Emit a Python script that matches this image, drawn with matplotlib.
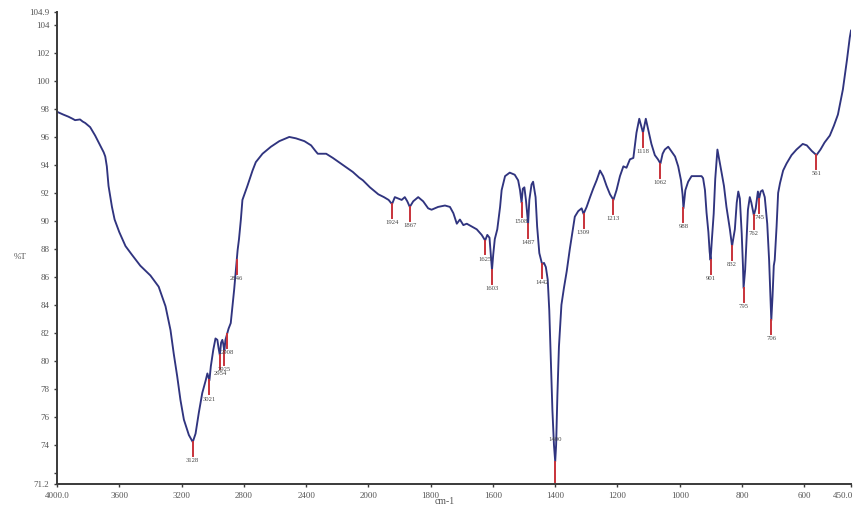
import numpy as np
import matplotlib
matplotlib.use('Agg')
import matplotlib.pyplot as plt
from matplotlib.ticker import FixedLocator, FixedFormatter
from matplotlib.transforms import ScaledTranslation

# IR spectrum, wavenumber (cm-1) vs %T
wavenumber = [
    4000, 3960, 3927, 3900, 3884, 3852, 3835, 3819, 3787, 3755, 3723, 3700,
    3690, 3680, 3669, 3647, 3630, 3600, 3560, 3520, 3465, 3400, 3347, 3303,
    3271, 3250, 3228, 3207, 3185, 3153, 3128, 3110, 3089, 3067, 3045, 3034,
    3021, 3012, 2996, 2982, 2970, 2962, 2954, 2946, 2938, 2932, 2925, 2918,
    2908, 2898, 2884, 2873, 2862, 2852, 2846, 2840, 2831, 2819, 2809, 2777,
    2744, 2723, 2680, 2626, 2572, 2508, 2465, 2411, 2368, 2340, 2325, 2300,
    2271, 2228, 2164, 2100, 2060, 2035, 1995, 1968, 1950, 1935, 1924, 1915,
    1904, 1893, 1883, 1875, 1867, 1856, 1840, 1824, 1808, 1797, 1776, 1754,
    1738, 1727, 1716, 1706, 1695, 1684, 1668, 1652, 1636, 1625, 1618, 1611,
    1606, 1603, 1599, 1594, 1586, 1577, 1572, 1561, 1546, 1530, 1519, 1513,
    1508, 1504, 1499, 1494, 1487, 1483, 1476, 1471, 1463, 1458, 1451, 1442,
    1436, 1430, 1424, 1419, 1414, 1409, 1404, 1400, 1397, 1393, 1388, 1380,
    1372, 1363, 1353, 1342, 1337, 1326, 1315, 1309, 1299, 1288, 1278, 1267,
    1256, 1246, 1235, 1224, 1213, 1203, 1192, 1181, 1171, 1160, 1149, 1139,
    1130, 1123, 1118, 1109, 1101, 1091, 1080, 1070, 1062, 1055, 1048, 1037,
    1026, 1015, 1005, 996, 991, 988, 982, 973, 962, 946, 930, 925,
    919, 914, 908, 904, 901, 897, 891, 886, 879, 874, 866, 858,
    850, 839, 832, 823, 817, 812, 807, 801, 797, 795, 790, 787,
    781, 775, 770, 762, 756, 749, 745, 740, 734, 727, 719, 713,
    709, 706, 702, 698, 695, 689, 684, 678, 668, 657, 641, 625,
    605, 592, 576, 561, 548, 535, 518, 505, 492, 476, 463, 454, 450,
]
transmittance = [
    97.8, 97.6, 97.45, 97.3, 97.2, 97.25, 97.1, 97.0, 96.7, 96.1, 95.4, 94.9,
    94.6, 93.9, 92.5, 91.0, 90.1, 89.2, 88.2, 87.6, 86.8, 86.1, 85.3, 83.9,
    82.2, 80.5, 78.9, 77.2, 75.8, 74.7, 74.2, 74.8, 76.3, 77.7, 78.6, 79.1,
    78.6, 79.6, 80.8, 81.6, 81.5, 80.9, 80.4, 81.3, 81.5, 81.2, 80.7, 81.5,
    81.9, 82.3, 82.7, 83.9, 85.1, 86.4, 87.2, 87.9, 88.7, 90.1, 91.5, 92.5,
    93.6, 94.2, 94.8, 95.3, 95.7, 96.0, 95.9, 95.7, 95.4, 95.0, 94.8, 94.8,
    94.8, 94.5, 94.0, 93.5, 93.1, 92.9, 92.4, 91.9, 91.7, 91.5, 91.2, 91.7,
    91.6, 91.5, 91.7, 91.4, 91.0, 91.4, 91.7, 91.4, 90.9, 90.8, 91.0, 91.1,
    91.0, 90.55, 89.8, 90.1, 89.7, 89.8, 89.6, 89.4, 89.0, 88.6, 89.0, 88.8,
    87.4, 86.5, 87.6, 88.7, 89.4, 91.0, 92.2, 93.2, 93.45, 93.3, 92.9, 92.2,
    91.3, 92.3, 92.4, 91.5, 89.8, 91.5, 92.6, 92.8, 91.7, 89.6, 87.7, 86.9,
    87.0, 86.7, 85.8, 83.6, 80.1, 76.5, 74.0, 72.8, 74.0, 77.5, 81.0, 84.0,
    85.2, 86.4, 88.0, 89.6, 90.3, 90.7, 90.9, 90.5, 91.0, 91.7, 92.3, 92.9,
    93.6, 93.2, 92.5, 91.9, 91.5, 92.2, 93.2, 93.9, 93.8, 94.4, 94.5, 96.3,
    97.3, 96.7, 96.3, 97.3, 96.5, 95.5, 94.7, 94.4, 94.1, 94.8, 95.1, 95.3,
    94.95, 94.6, 93.9, 92.9, 91.9, 90.9, 92.2, 92.8, 93.2, 93.2, 93.2, 93.05,
    92.2, 90.6, 89.2, 87.8, 87.2, 88.6, 90.5, 93.0, 95.1, 94.5, 93.5, 92.5,
    91.0, 89.4, 88.2, 89.4, 91.3, 92.1, 91.6, 89.1, 86.8, 85.2, 86.5, 87.9,
    90.8, 91.7, 91.3, 90.4, 90.9, 92.1, 91.6, 92.1, 92.2, 91.7, 89.8, 87.2,
    84.8, 82.9, 84.6, 86.8, 87.2, 89.6, 92.0, 92.7, 93.6, 94.1, 94.7, 95.1,
    95.5, 95.4, 95.0, 94.7, 95.1, 95.6, 96.1, 96.8, 97.6, 99.4, 101.5, 103.1, 103.6,
]

# labelled bands
peaks = [3128, 3021, 2954, 2925, 2908, 2846, 1924, 1867, 1625, 1603, 1508,
         1487, 1442, 1400, 1309, 1213, 1118, 1062, 988, 901, 832, 795, 762,
         745, 706, 561]

x_ticks = [4000, 3600, 3200, 2800, 2400, 2000, 1800, 1600, 1400, 1200, 1000,
           800, 600, 450]
x_tick_labels = ['4000.0', '3600', '3200', '2800', '2400', '2000', '1800',
                 '1600', '1400', '1200', '1000', '800', '600', '450.0']
y_ticks = [71.2, 72, 74, 76, 78, 80, 82, 84, 86, 88, 90, 92, 94, 96, 98, 100,
           102, 104, 104.9]
y_tick_labels = ['71.2', '', '74', '76', '78', '80', '82', '84', '86', '88',
                 '90', '92', '94', '96', '98', '100', '102', '104', '104.9']


# the axis is expanded x2 below 2000 cm-1
def fwd(x):
    x = np.asarray(x, dtype=float)
    return np.where(x > 2000, 2000 + (x - 2000) / 2.0, x)


def inv(u):
    u = np.asarray(u, dtype=float)
    return np.where(u > 2000, 2000 + (u - 2000) * 2.0, u)


wn = np.array(wavenumber, dtype=float)
tr = np.array(transmittance, dtype=float)

fig = plt.figure(figsize=(8.59, 5.08), dpi=100)
ax = fig.add_axes([57 / 859, 24 / 508, 794 / 859, 471.6 / 508])
ax.set_xscale('function', functions=(fwd, inv))
ax.set_xlim(4000, 450)
ax.set_ylim(71.2, 104.9)

line_col = '#30347f'
mark_col = '#c8323a'
ax.plot(wn, tr, color=line_col, lw=1.35, zorder=2)

ymin = 71.2
for p in peaks:
    t = np.interp(p, wn[::-1], tr[::-1])
    if t - 2.2 < ymin:
        ax.plot([p, p], [t, ymin + 0.15], color=mark_col, lw=1.4, zorder=3)
        ax.text(p, t + 1.4, str(p), ha='center', va='bottom', fontsize=4.8,
                color='#444444', family='Liberation Serif', zorder=4)
    else:
        ax.plot([p, p], [t, t - 1.0], color=mark_col, lw=1.4, zorder=3)
        ax.text(p, t - 1.15, str(p), ha='center', va='top', fontsize=4.8,
                color='#444444', family='Liberation Serif', zorder=4)

ax.xaxis.set_major_locator(FixedLocator(x_ticks))
ax.xaxis.set_major_formatter(FixedFormatter(x_tick_labels))
ax.xaxis.set_minor_locator(FixedLocator([]))
ax.yaxis.set_major_locator(FixedLocator(y_ticks))
ax.yaxis.set_major_formatter(FixedFormatter(y_tick_labels))

for s in ['top', 'right']:
    ax.spines[s].set_visible(False)
for s in ['left', 'bottom']:
    ax.spines[s].set_color('#3a3a3a')
    ax.spines[s].set_linewidth(1.4)

ax.tick_params(direction='out', length=2.5, width=1, color='#3a3a3a',
               labelcolor='#555555', labelsize=6.5, pad=3)
for lab in ax.get_xticklabels() + ax.get_yticklabels():
    lab.set_family('Liberation Serif')

# keep the last x label inside the figure
fig.canvas.draw()
last = ax.get_xticklabels()[-1]
last.set_transform(last.get_transform() +
                   ScaledTranslation(-6 / 72, 0, fig.dpi_scale_trans))

fig.text(20 / 859, 1 - 257 / 508, '%T', ha='center', va='center',
         fontsize=6.5, color='#555555', family='Liberation Serif')
fig.text(445 / 859, 0.003, 'cm-1', ha='center', va='bottom',
         fontsize=7, color='#555555', family='Liberation Serif')

fig.savefig('out.png', dpi=100, facecolor='white')
